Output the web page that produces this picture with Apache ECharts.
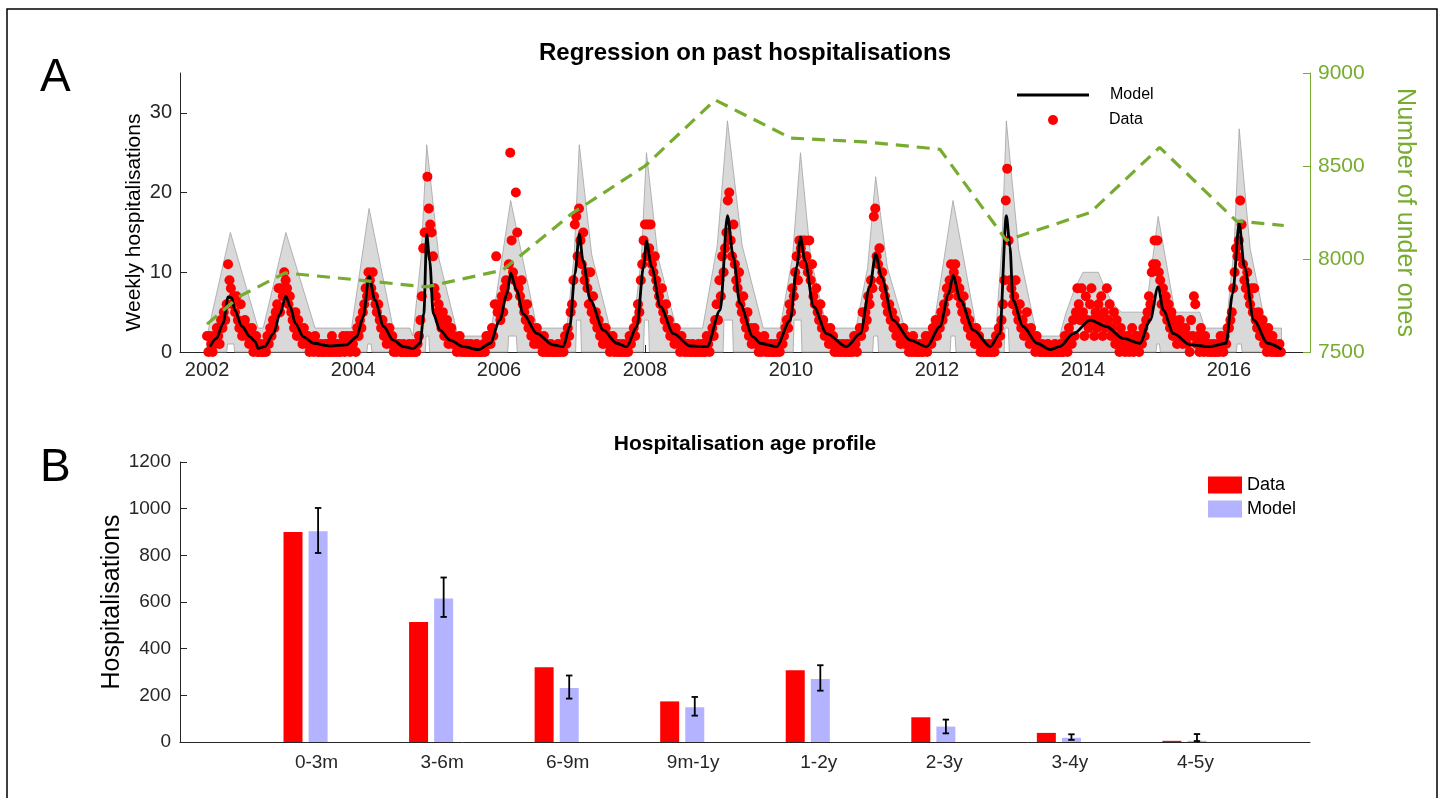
<!DOCTYPE html>
<html>
<head>
<meta charset="utf-8">
<script src="https://cdn.jsdelivr.net/npm/echarts@6/dist/echarts.min.js"></script>
<style>
  html, body { margin: 0; padding: 0; background: #fff; }
  #chart { width: 1445px; height: 798px; }
</style>
</head>
<body>
<div id="chart"></div>
<script>
// ---- Panel A: weekly hospitalisations, one array per calendar year (week 0..51) ----
const counts2002 = [2,0,2,1,0,2,1,3,2,1, 4,3,5,4,6,11,9,8,6,7, 5,7,4,3,6,2,3,4,2,3, 1,2,3,0,1,2,0,0,1,0, 0,1,0,2,1,3,2,4,3,5,6,8];
const counts2003 = [5,8,7,10,9,8,6,7,5,4, 3,5,2,4,3,2,1,3,2,1, 2,0,1,1,0,2,1,0,0,1, 0,0,1,0,1,0,0,2,0,1, 0,1,0,0,1,2,0,1,2,1,0,2];
const counts2004 = [1,2,0,3,2,4,3,5,6,8, 7,10,9,8,10,7,6,5,6,4, 3,4,2,3,1,2,3,1,2,0, 1,0,1,1,0,0,1,0,0,0, 1,0,0,1,0,0,1,2,4,7,13,15];
const counts2005 = [15,22,18,16,15,12,8,7,5,6, 4,3,5,2,3,4,1,2,3,1, 2,1,0,1,2,0,1,0,0,1, 0,0,1,0,0,0,1,0,0,0, 0,1,0,2,1,2,1,3,2,6,12,5];
const counts2006 = [6,4,7,5,8,9,7,11,25,14, 10,9,20,15,8,7,9,6,5,4, 6,3,4,2,3,1,2,3,1,2, 1,0,2,0,1,0,0,1,0,0, 0,0,1,0,0,1,0,2,1,3,2,5];
const counts2007 = [6,9,16,17,12,18,14,11,15,9, 10,8,6,10,5,7,4,5,3,4, 2,3,1,2,3,1,2,0,1,2, 0,1,0,1,0,0,1,0,0,1, 0,2,1,2,3,2,4,6,5,9,11,14];
const counts2008 = [16,12,16,13,16,11,10,12,9,8, 7,6,8,5,4,6,3,4,2,3, 2,1,3,2,1,0,2,1,0,1, 0,1,0,0,1,0,0,0,1,0, 0,1,0,0,2,1,0,2,3,2,4,6];
const counts2009 = [4,9,7,12,10,13,15,19,20,14, 12,16,11,9,8,10,6,5,7,4, 3,5,2,3,1,2,3,1,2,0, 1,0,1,2,0,1,0,0,1,0, 0,1,0,1,0,2,1,2,3,4,3,6];
const counts2010 = [5,8,7,10,12,9,14,13,14,11, 14,12,10,14,9,11,7,6,8,5, 4,6,3,4,2,3,2,1,3,1, 2,0,1,0,1,0,0,1,0,0, 1,0,0,1,0,2,1,0,2,3,2,5];
const counts2011 = [3,5,4,7,6,9,8,17,18,12, 11,13,9,10,8,7,6,5,6,4, 5,3,4,2,3,2,1,2,3,1, 2,1,0,1,0,2,0,1,0,0, 1,0,0,1,2,0,1,2,1,3,2,4];
const counts2012 = [2,4,3,5,4,6,5,8,7,9, 11,8,10,11,9,7,8,6,5,7, 4,5,3,4,2,3,2,1,3,1, 2,0,1,0,1,0,0,1,0,0, 1,0,2,1,3,2,4,6,9,19,23,14];
const counts2013 = [9,8,6,7,9,5,4,6,3,4, 2,3,5,2,1,3,2,1,0,2, 1,0,0,1,0,0,0,1,0,0, 0,0,1,0,0,0,1,0,0,2, 1,0,3,2,1,4,2,5,8,6,4,8];
const counts2014 = [5,2,7,4,3,6,8,4,2,5, 3,6,4,7,2,5,3,8,4,6, 2,3,5,1,4,2,0,3,1,2, 0,1,2,0,1,3,0,1,2,1, 0,2,1,3,2,4,5,7,6,10,11,14];
const counts2015 = [11,14,10,9,6,8,5,7,4,6, 3,5,2,4,3,1,2,4,3,1, 2,3,1,2,0,4,2,7,6,1, 2,0,3,1,0,2,1,0,1,0, 0,1,0,0,1,0,2,1,0,2,1,3];
const counts2016 = [3,4,5,8,10,13,12,14,19,16, 11,9,8,10,7,6,8,5,8,4, 3,5,2,3,4,1,2,0,3,1, 0,2,0,1,0,0,1,0];

const countYears = [
  [2002, counts2002], [2003, counts2003], [2004, counts2004], [2005, counts2005],
  [2006, counts2006], [2007, counts2007], [2008, counts2008], [2009, counts2009],
  [2010, counts2010], [2011, counts2011], [2012, counts2012], [2013, counts2013],
  [2014, counts2014], [2015, counts2015], [2016, counts2016]
];

// fitted model: [decimal year, weekly hospitalisations]
const modelCurve = [
  [2002.04,0.67],[2002.13,1.7],[2002.22,3.6],[2002.29,6.9],[2002.34,6.8],[2002.38,5.25],[2002.48,3.2],[2002.59,1.9],[2002.66,1.3],[2002.70,0.45],
  [2002.79,0.67],[2002.91,2.3],[2003.00,4.8],[2003.08,7.0],[2003.14,5.7],[2003.21,3.6],[2003.32,1.9],[2003.46,1.1],[2003.68,0.75],[2003.91,0.9],
  [2004.05,1.9],[2004.14,4.4],[2004.22,9.5],[2004.30,6.5],[2004.42,3.2],[2004.55,1.5],[2004.69,0.67],[2004.83,0.45],[2004.92,1.1],[2004.97,4.8],
  [2005.01,14.75],[2005.05,11.5],[2005.10,4.8],[2005.19,2.75],[2005.33,1.5],[2005.51,0.67],[2005.72,0.3],[2005.88,1.1],[2006.01,4.0],[2006.11,7.3],
  [2006.16,9.9],[2006.24,7.75],[2006.33,4.8],[2006.52,2.3],[2006.74,0.9],[2006.88,0.67],[2006.97,3.2],[2007.04,9.8],[2007.10,14.8],[2007.15,11.5],
  [2007.25,6.5],[2007.43,2.75],[2007.61,1.1],[2007.75,0.67],[2007.89,3.2],[2007.98,10.7],[2008.02,13.9],[2008.09,10.7],[2008.21,5.7],[2008.39,2.3],
  [2008.62,0.75],[2008.85,0.67],[2009.03,5.25],[2009.13,17.1],[2009.21,11.9],[2009.30,6.1],[2009.48,1.9],[2009.58,1.1],[2009.80,0.67],[2009.99,4.0],
  [2010.08,10.7],[2010.13,14.4],[2010.19,11.5],[2010.31,5.7],[2010.49,2.3],[2010.76,0.67],[2010.95,2.3],[2011.08,8.2],[2011.16,12.3],[2011.24,9.4],
  [2011.40,4.0],[2011.63,1.5],[2011.86,0.67],[2012.04,3.2],[2012.16,7.3],[2012.22,9.6],[2012.32,6.5],[2012.50,2.75],[2012.73,0.67],[2012.86,2.3],
  [2012.95,17.1],[2013.00,13.2],[2013.04,6.5],[2013.18,3.2],[2013.37,1.1],[2013.55,0.3],[2013.68,0.67],[2013.87,2.3],[2014.10,4.0],[2014.32,3.2],
  [2014.55,1.7],[2014.78,1.1],[2014.92,4.0],[2015.03,8.2],[2015.10,5.25],[2015.24,2.3],[2015.47,0.9],[2015.74,0.67],[2015.96,1.1],[2016.05,7.3],
  [2016.14,16.1],[2016.21,10.7],[2016.34,4.0],[2016.53,1.1],[2016.72,0.33]
];

// upper edge of the model's prediction interval: [decimal year, upper]
const bandUpper = [
  [2002.00,2],[2002.32,15],[2002.70,3],
  [2002.77,3],[2003.08,15],[2003.48,3],
  [2003.98,3],[2004.22,18],[2004.55,3],
  [2004.78,3],[2004.82,2],[2004.93,11.6],[2005.01,26],[2005.18,11.6],[2005.44,2],
  [2005.88,2],[2006.16,19],[2006.52,3],
  [2006.93,3],[2007.03,12.2],[2007.10,26],[2007.27,12.2],[2007.52,3],
  [2007.84,3],[2007.95,11.8],[2008.02,25],[2008.18,11.8],[2008.43,3],
  [2008.79,3],[2008.99,13.4],[2009.13,29],[2009.33,13.4],[2009.62,3],
  [2009.85,3],[2010.02,11.8],[2010.13,25],[2010.27,11.8],[2010.49,3],
  [2010.89,3],[2011.05,10.6],[2011.16,22],[2011.32,10.6],[2011.56,3],
  [2011.95,3],[2012.22,19],[2012.54,3],
  [2012.81,3],[2012.89,13.4],[2012.95,29],[2013.12,12.8],[2013.37,2],
  [2013.68,2],[2013.77,5],[2013.89,8],[2014.00,10],[2014.21,10],[2014.30,8],[2014.41,6],[2014.53,5],
  [2014.86,5],[2015.03,17],[2015.26,5],[2015.60,5],[2015.67,3],
  [2015.96,3],[2016.07,13],[2016.14,28],[2016.29,13],[2016.51,3],[2016.72,3]
];
// lower edge is zero except around epidemic peaks: [from year, to year, lower]
const bandNotches = [
  [2002.27,2002.38,1],[2004.19,2004.26,1],[2004.99,2005.05,2],[2006.12,2006.25,2],
  [2007.05,2007.13,4],[2007.98,2008.06,4],[2009.07,2009.21,4],[2010.03,2010.15,4],
  [2011.12,2011.20,2],[2012.18,2012.26,2],[2012.92,2012.99,3],[2015.00,2015.06,1],[2016.10,2016.18,1]
];

// population aged under one, right axis
const underOnesYear = [2002.0, 2002.45, 2003.07, 2004.0, 2005.0, 2006.05, 2007.0, 2008.0, 2008.96, 2010.0, 2011.0, 2012.04, 2012.95, 2014.1, 2015.05, 2016.1, 2016.75];
const underOnes     = [7650,   7800,    7925,    7890,   7850,   7940,    8245,   8500,   8855,    8650,   8630,   8590,    8100,    8250,   8600,    8205,   8180];

const yearTicks = [2002, 2004, 2006, 2008, 2010, 2012, 2014, 2016];
const weeklyTicks = [0, 10, 20, 30];

// ---- Panel B: hospitalisations by age group ----
const ageGroups    = ['0-3m', '3-6m', '6-9m', '9m-1y', '1-2y', '2-3y', '3-4y', '4-5y'];
const ageData      = [900, 514, 320, 174, 307, 106, 39, 5];
const ageModel     = [903, 615, 231, 149, 270, 66, 18, 5];
const ageModelLow  = [810, 536, 186, 113, 220, 37, 9, 4];
const ageModelHigh = [1003, 705, 285, 193, 329, 96, 33, 34];

// ---- derived series ----
const dataPoints = [];
countYears.forEach(([yr, arr]) => arr.forEach((v, w) => dataPoints.push([yr + w / 52, v])));

const bandLower = [[2002.0, 0]];
bandNotches.forEach(([a, b, l]) => { bandLower.push([a, 0], [a + 0.012, l], [b - 0.012, l], [b, 0]); });
bandLower.push([2016.72, 0]);

const underOnesLine = underOnesYear.map((t, i) => [t, underOnes[i]]);

const BAR_W = 19, BAR_GAP = 0.32;
const FONT = '"Liberation Sans", Arial, Helvetica, sans-serif';
const AX = '#262626', GREEN = '#77AC30';
const plain = v => String(v);

const chart = echarts.init(document.getElementById('chart'), null, { renderer: 'canvas' });

chart.setOption({
  animation: false,
  backgroundColor: '#fff',
  textStyle: { fontFamily: FONT },
  title: [
    { text: 'Regression on past hospitalisations', left: 745, top: 41, textAlign: 'center', padding: 0,
      textStyle: { fontSize: 24, fontWeight: 'bold', color: '#000', fontFamily: FONT } },
    { text: 'Hospitalisation age profile', left: 745, top: 434, textAlign: 'center', padding: 0,
      textStyle: { fontSize: 21, fontWeight: 'bold', color: '#000', fontFamily: FONT } }
  ],
  graphic: [
    { type: 'rect', shape: { x: 7, y: 9, width: 1430, height: 830 }, style: { fill: 'none', stroke: '#000', lineWidth: 1.5 }, silent: true, z: 100 },
    { type: 'text', x: 40, y: 55, style: { text: 'A', fontSize: 46, fill: '#000', fontFamily: FONT } },
    { type: 'text', x: 40, y: 445, style: { text: 'B', fontSize: 46, fill: '#000', fontFamily: FONT } }
  ],
  legend: [
    { data: [{ name: 'Model', icon: 'rect' }], left: 1017, top: 87, padding: 0, itemWidth: 72, itemHeight: 3,
      textStyle: { fontSize: 16, color: '#000', padding: [0, 0, 0, 16] }, selectedMode: false },
    { data: [{ name: 'Data', icon: 'circle' }], left: 1048, top: 112, padding: 0, itemWidth: 72, itemHeight: 10,
      textStyle: { fontSize: 16, color: '#000', padding: [0, 0, 0, 15] }, selectedMode: false },
    { data: ['Data, by age', 'Model, by age'], left: 1208, top: 476, padding: 0, orient: 'vertical', icon: 'rect',
      itemWidth: 34, itemHeight: 17, itemGap: 6, selectedMode: false,
      formatter: n => n.split(',')[0], textStyle: { fontSize: 18, color: '#000' } }
  ],
  grid: [
    { left: 180, top: 73, width: 1130, height: 279, outerBoundsMode: 'none', containLabel: false },
    { left: 180, top: 462, width: 1130, height: 280, outerBoundsMode: 'none', containLabel: false }
  ],
  xAxis: [
    { type: 'value', gridIndex: 0, min: 2001.63, max: 2017.11,
      axisLine: { lineStyle: { color: AX, width: 1 } },
      axisTick: { inside: true, length: 7, lineStyle: { color: AX }, customValues: yearTicks },
      axisLabel: { customValues: yearTicks, formatter: plain, fontSize: 20, color: AX, margin: 8, fontFamily: FONT },
      splitLine: { show: false } },
    { type: 'category', gridIndex: 1, data: [''].concat(ageGroups, ['']), boundaryGap: false,
      axisLine: { lineStyle: { color: AX, width: 1 } },
      axisTick: { show: false },
      axisLabel: { fontSize: 19, color: AX, margin: 11, interval: 0, padding: [0, 0, 0, 22], fontFamily: FONT },
      splitLine: { show: false } }
  ],
  yAxis: [
    { type: 'value', gridIndex: 0, min: 0, max: 35, position: 'left',
      axisLine: { show: true, lineStyle: { color: AX, width: 1 } },
      axisTick: { show: true, inside: true, length: 7, lineStyle: { color: AX }, customValues: weeklyTicks },
      axisLabel: { customValues: weeklyTicks, formatter: plain, fontSize: 20, color: AX, margin: 8, fontFamily: FONT },
      splitLine: { show: false },
      name: 'Weekly hospitalisations', nameLocation: 'middle', nameGap: 35, nameRotate: 90, nameMoveOverlap: false,
      nameTextStyle: { fontSize: 21, color: '#000', fontFamily: FONT, padding: [0, 20, 0, 0] } },
    { type: 'value', gridIndex: 0, min: 7500, max: 9000, interval: 500, position: 'right',
      axisLine: { show: true, lineStyle: { color: GREEN, width: 1 } },
      axisTick: { show: true, inside: true, length: 7, lineStyle: { color: GREEN } },
      axisLabel: { formatter: plain, fontSize: 21, color: GREEN, margin: 8, fontFamily: FONT },
      splitLine: { show: false },
      name: 'Number of under ones', nameLocation: 'middle', nameGap: 82, nameRotate: -90, nameMoveOverlap: false,
      nameTextStyle: { fontSize: 25, color: GREEN, fontFamily: FONT } },
    { type: 'value', gridIndex: 1, min: 0, max: 1200, interval: 200,
      axisLine: { show: true, lineStyle: { color: AX, width: 1 } },
      axisTick: { show: true, inside: true, length: 7, lineStyle: { color: AX } },
      axisLabel: { formatter: plain, fontSize: 19, color: AX, margin: 9, fontFamily: FONT },
      splitLine: { show: false },
      name: 'Hospitalisations', nameLocation: 'middle', nameGap: 55, nameRotate: 90, nameMoveOverlap: false,
      nameTextStyle: { fontSize: 25, color: '#000', fontFamily: FONT } }
  ],
  series: [
    { // prediction interval
      type: 'custom', name: 'interval', xAxisIndex: 0, yAxisIndex: 0, silent: true, z: 1,
      data: [[2002, 0]],
      renderItem: function (params, api) {
        const up = bandUpper.map(p => api.coord(p));
        const lo = bandLower.slice().reverse().map(p => api.coord(p));
        return { type: 'polygon', shape: { points: up.concat(lo) },
                 style: { fill: '#D9D9D9', stroke: '#A3A3A3', lineWidth: 0.8 } };
      }
    },
    { type: 'scatter', name: 'Data', xAxisIndex: 0, yAxisIndex: 0, data: dataPoints, symbolSize: 10, clip: false,
      itemStyle: { color: '#FF0000', opacity: 1 }, z: 3 },
    { type: 'line', name: 'Model', xAxisIndex: 0, yAxisIndex: 0, data: modelCurve, showSymbol: false,
      smooth: 0.3, smoothMonotone: 'x', lineStyle: { color: '#000', width: 2.8 }, itemStyle: { color: '#000' }, z: 4 },
    { type: 'line', name: 'Under ones', xAxisIndex: 0, yAxisIndex: 1, data: underOnesLine, showSymbol: false,
      lineStyle: { color: GREEN, width: 3.2, type: [13, 8] }, itemStyle: { color: GREEN }, z: 5 },
    { type: 'bar', name: 'Data, by age', xAxisIndex: 1, yAxisIndex: 2, data: [null].concat(ageData, [null]),
      barWidth: BAR_W, barGap: (BAR_GAP * 100) + '%', itemStyle: { color: '#FF0000' } },
    { type: 'bar', name: 'Model, by age', xAxisIndex: 1, yAxisIndex: 2, data: [null].concat(ageModel, [null]),
      barWidth: BAR_W, barGap: (BAR_GAP * 100) + '%', itemStyle: { color: '#B3B3FF' } },
    { // model uncertainty on the age profile
      type: 'custom', name: 'range', xAxisIndex: 1, yAxisIndex: 2, silent: true, z: 6,
      encode: { x: 0, y: [1, 2] },
      data: ageGroups.map((g, i) => [i + 1, ageModelLow[i], ageModelHigh[i]]),
      renderItem: function (params, api) {
        const idx = api.value(0);
        const x = api.coord([idx, 0])[0] + BAR_W * (1 + BAR_GAP) / 2;
        const yLo = api.coord([idx, api.value(1)])[1];
        const yHi = api.coord([idx, api.value(2)])[1];
        const c = 3.2, st = { stroke: '#000', lineWidth: 1.8 };
        return { type: 'group', children: [
          { type: 'line', shape: { x1: x, y1: yLo, x2: x, y2: yHi }, style: st },
          { type: 'line', shape: { x1: x - c, y1: yHi, x2: x + c, y2: yHi }, style: st },
          { type: 'line', shape: { x1: x - c, y1: yLo, x2: x + c, y2: yLo }, style: st }
        ] };
      }
    }
  ]
});
</script>
</body>
</html>
